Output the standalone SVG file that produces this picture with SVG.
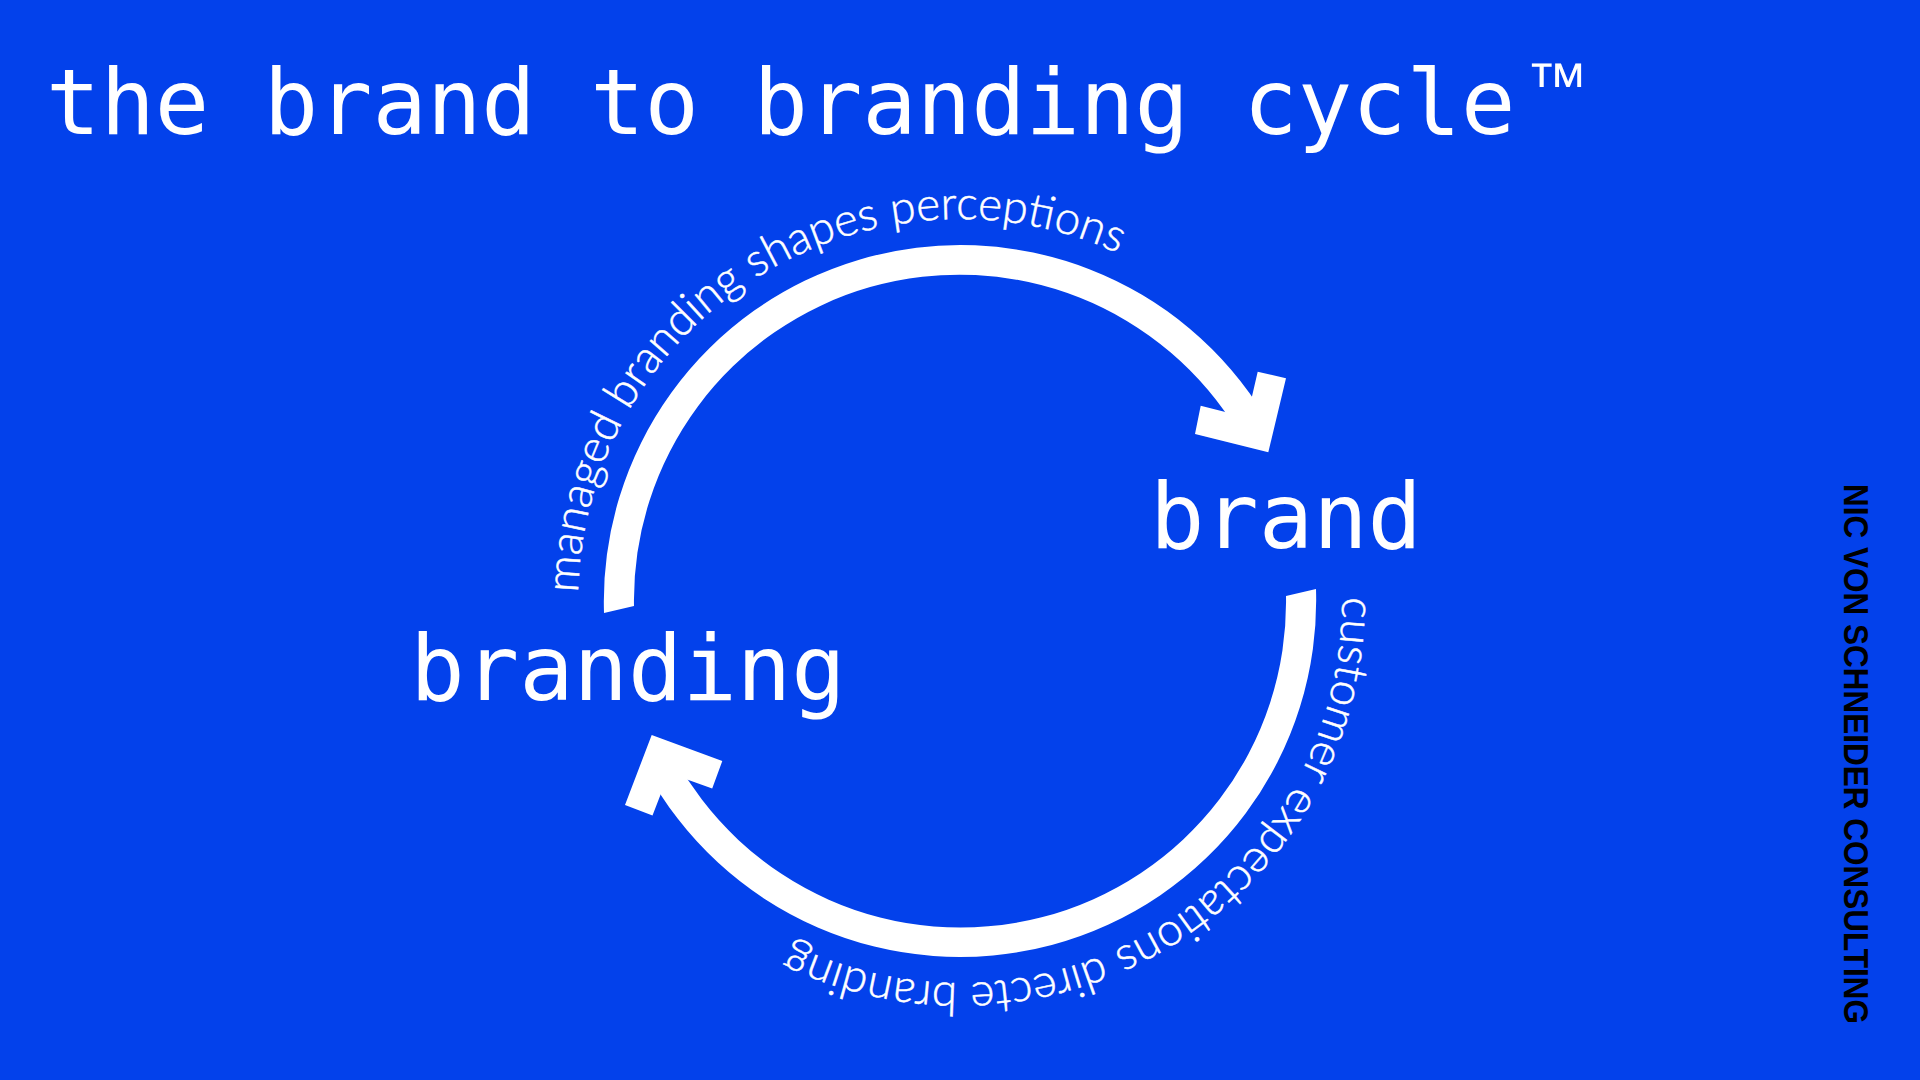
<svg xmlns="http://www.w3.org/2000/svg" width="1920" height="1080" viewBox="0 0 1920 1080">
  <defs>
    <style>
      .bg { fill: #0341EB; }
      .mono { font-family: "DejaVu Sans Mono", "Liberation Mono", monospace; fill: #ffffff; font-size: 90.4px; }
      .tm { font-family: "DejaVu Sans", "Liberation Sans", sans-serif; font-size: 62px; font-weight: 300; }
      .arc { fill: #ffffff; }
      .label { font-family: Lato, "Open Sans", "Noto Sans", sans-serif; font-weight: 300; font-size: 45.8px; fill: #ffffff; stroke: #ffffff; stroke-width: 0.5px; }
      .brandmark { font-family: "Liberation Sans", Arial, sans-serif; font-weight: 700; font-size: 35px; fill: #000000; writing-mode: vertical-rl; text-orientation: sideways; }
    </style>
    <path id="topTextPath" d="M 578.1 593 A 382 382 0 0 1 1252.6 355.5"/>
    <path id="bottomTextPath" d="M 1342 597 A 382 382 0 0 1 667.4 846.5"/>
  </defs>

  <rect class="bg" x="0" y="0" width="1920" height="1080"/>

  <g id="title">
    <text class="mono" x="46" y="133.5">the brand to branding cycle<tspan class="tm" x="1526" y="106">™</tspan></text>
  </g>

  <g id="connectors">
    <g id="arrow-branding-to-brand">
      <path class="arc" d="M 604 613 A 356.5 356.5 0 0 1 1265.6 417.4 L 1239.0 433.4 A 325.5 325.5 0 0 0 634 606 Z"/>
      <polygon class="arc" points="1268.3,452.3 1286,378.3 1257.7,371.7 1247.1,417.5 1200.7,405.7 1195,434"/>
      <text class="label"><textPath href="#topTextPath">managed branding shapes perceptions</textPath></text>
    </g>
    <g id="arrow-brand-to-branding">
      <path class="arc" d="M 1316 589 A 356.5 356.5 0 0 1 645.2 768.4 L 672.6 753.8 A 325.5 325.5 0 0 0 1286 596 Z"/>
      <polygon class="arc" points="651.7,735 722.3,761 712.2,788.6 668.9,772.9 652.5,815.6 625,805"/>
      <text class="label"><textPath href="#bottomTextPath">customer expectations directe branding</textPath></text>
    </g>
  </g>

  <g id="node-brand">
    <text class="mono" x="1286" y="548.3" text-anchor="middle">brand</text>
  </g>

  <g id="node-branding">
    <text class="mono" x="628" y="699.5" text-anchor="middle">branding</text>
  </g>

  <g id="credit">
    <text class="brandmark" x="1844" y="484" textLength="540" lengthAdjust="spacingAndGlyphs">NIC VON SCHNEIDER CONSULTING</text>
  </g>
</svg>
